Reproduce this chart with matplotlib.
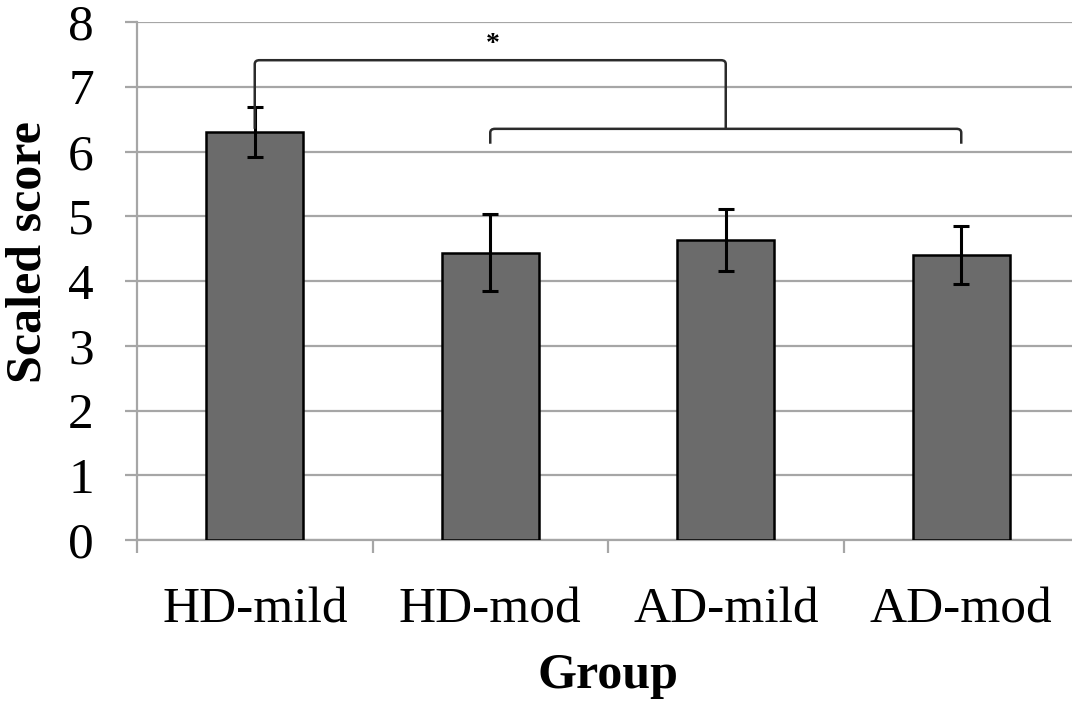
import matplotlib
matplotlib.use("Agg")
import matplotlib.pyplot as plt
from matplotlib.path import Path
from matplotlib.patches import PathPatch

groups = ["HD-mild", "HD-mod", "AD-mild", "AD-mod"]
scores = [6.30, 4.44, 4.63, 4.40]
errors = [0.39, 0.60, 0.48, 0.45]
y_ticks = [0, 1, 2, 3, 4, 5, 6, 7, 8]

# comparison: HD-mild vs the other three groups
upper_span = (0, 2)      # from HD-mild to the middle of the lower brace
lower_span = (1, 3)      # HD-mod .. AD-mod
upper_level, upper_foot = 7.41, 7.06
lower_level, lower_foot = 6.35, 6.12

plt.rcParams["font.family"] = ["Liberation Serif", "DejaVu Serif"]

fig = plt.figure(figsize=(10.72, 7.08), dpi=100)
W, H = 1072, 708
ax = fig.add_axes([137 / W, 168 / H, 942 / W, 518 / H])

grid_c = "#a6a6a6"
x = list(range(len(groups)))
ax.bar(x, scores, width=0.41, color="#6b6b6b", edgecolor="black", linewidth=1.8, zorder=3)
ax.errorbar(x, scores, yerr=errors, fmt="none", ecolor="black", elinewidth=2.2,
            capsize=6, capthick=2.2, zorder=4)

ax.set_xlim(-0.5, len(groups) - 0.5)
ax.set_ylim(0, 8)
ax.set_yticks(y_ticks)
ax.yaxis.grid(True, color=grid_c, linewidth=1.6, zorder=0)
ax.set_axisbelow(True)
for s in ["top", "right"]:
    ax.spines[s].set_visible(False)
for s in ["left", "bottom"]:
    ax.spines[s].set_color(grid_c)
    ax.spines[s].set_linewidth(1.6)

ax.set_xticks(x)
ax.set_xticklabels(groups, fontsize=37)
ax.set_xticks([i - 0.5 for i in range(len(groups) + 1)], minor=True)
ax.tick_params(axis="x", which="major", length=0, pad=34)
ax.tick_params(axis="x", which="minor", length=9, width=1.6, color=grid_c, direction="out")
ax.tick_params(axis="y", length=9, width=1.6, color=grid_c, direction="out",
               labelsize=37, pad=22)

fig.text(29 / W, 1 - 252 / H, "Scaled score", rotation=90, ha="center", va="center",
         fontsize=36, fontweight="bold")
fig.text(608 / W, 20 / H, "Group", ha="center", va="baseline",
         fontsize=36, fontweight="bold")


def bracket(x0, x1, level, foot, r=0.02, dr=0.06):
    verts = [(x0, foot), (x0, level - dr), (x0, level), (x0 + r, level),
             (x1 - r, level), (x1, level), (x1, level - dr), (x1, foot)]
    codes = [Path.MOVETO, Path.LINETO, Path.CURVE3, Path.CURVE3,
             Path.LINETO, Path.CURVE3, Path.CURVE3, Path.LINETO]
    ax.add_patch(PathPatch(Path(verts, codes), fill=False, edgecolor="#2b2b2b",
                           linewidth=1.8, zorder=5, clip_on=False))


bracket(upper_span[0], upper_span[1], upper_level, lower_level, r=0.02, dr=0.06)
bracket(lower_span[0], lower_span[1], lower_level, lower_foot, r=0.02, dr=0.06)
ax.text((lower_span[0] + 0.01), upper_level + 0.25, "*", ha="center", va="center",
        fontsize=20, fontweight="bold")

fig.savefig("out.png", dpi=100)
